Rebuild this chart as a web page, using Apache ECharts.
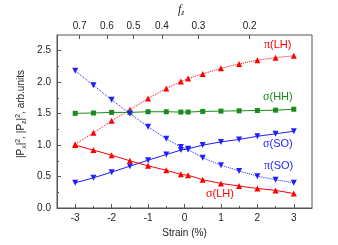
<!DOCTYPE html>
<html><head><meta charset="utf-8">
<script src="https://cdn.jsdelivr.net/npm/echarts@6/dist/echarts.min.js"></script>
<style>html,body{margin:0;padding:0;background:#fff}#c{width:338px;height:245px}</style>
</head><body><div id="c"></div>
<script>
const strain = [-3,-2.5,-2,-1.5,-1,-0.5,-0.1,0.1,0.5,1,1.5,2,2.5,3];
const piLH  = [1.01,1.195,1.385,1.56,1.74,1.90,2.01,2.06,2.13,2.22,2.29,2.35,2.39,2.42];
const sigHH = [1.505,1.51,1.52,1.52,1.53,1.53,1.525,1.525,1.535,1.54,1.545,1.55,1.555,1.57];
const sigSO = [0.40,0.48,0.57,0.665,0.76,0.85,0.92,0.94,1.00,1.05,1.09,1.14,1.18,1.22];
const piSO  = [2.18,1.95,1.72,1.50,1.29,1.10,0.97,0.93,0.80,0.68,0.59,0.505,0.45,0.40];
const sigLH = [1.00,0.92,0.84,0.75,0.67,0.60,0.535,0.52,0.45,0.39,0.35,0.31,0.28,0.23];
const xTicks = [-3,-2,-1,0,1,2,3];
const xMinor = [-2.5,-1.5,-0.5,0.5,1.5,2.5];
const yTicks = [0,0.5,1,1.5,2,2.5];
const yMinor = [0.25,0.75,1.25,1.75,2.25];
const fzLabels = ['0.7','0.6','0.5','0.4','0.3','0.2'];
const fzStrain = [-2.88,-2.13,-1.40,-0.62,0.38,1.79];

const RED='#ff0000', GREEN='#1a8a1a', BLUE='#1f1fff';
const pair = a => strain.map((s,i)=>[s,a[i]]);
const axCol = '#555';
const lbl = {color:'#222', fontSize:10, fontFamily:'Liberation Sans'};

function ser(name,data,color,dotted,symbol,rot,size){
  return {name,type:'line',xAxisIndex:0,yAxisIndex:0,data:pair(data),
    lineStyle:{color,width:1,type:dotted?'dotted':'solid'},
    itemStyle:{color},symbol,symbolRotate:rot,symbolSize:size,animation:false};
}
const chart = echarts.init(document.getElementById('c'),null,{renderer:'canvas'});
chart.setOption({
  animation:false,
  grid:{left:57,right:26,top:35,bottom:37,show:true,borderColor:axCol,borderWidth:1},
  xAxis:[
    {type:'value',position:'bottom',min:-3.5,max:3.5,
     axisLine:{onZero:false,lineStyle:{color:axCol}},splitLine:{show:false},
     axisTick:{inside:true,length:4,customValues:xTicks,lineStyle:{color:axCol}},
     axisLabel:{...lbl,margin:5,customValues:xTicks},
     name:'Strain (%)',nameLocation:'middle',nameGap:20,nameTextStyle:{...lbl,fontSize:10}},
    {type:'value',position:'bottom',min:-3.5,max:3.5,
     axisLine:{show:false,onZero:false},splitLine:{show:false},
     axisTick:{inside:true,length:2,customValues:xMinor,lineStyle:{color:axCol}},
     axisLabel:{show:false}},
    {type:'value',position:'top',min:-3.5,max:3.5,
     axisLine:{show:false,onZero:false},splitLine:{show:false},
     axisTick:{inside:true,length:4,customValues:fzStrain,lineStyle:{color:axCol}},
     axisLabel:{...lbl,margin:4,customValues:fzStrain,
       formatter:v=>{let best=0;fzStrain.forEach((s,i)=>{if(Math.abs(s-v)<Math.abs(fzStrain[best]-v))best=i;});return fzLabels[best];}}}
  ],
  yAxis:[
    {type:'value',min:0,max:2.75,
     axisLine:{show:true,onZero:false,lineStyle:{color:axCol}},splitLine:{show:false},
     axisTick:{inside:true,length:4,customValues:yTicks,lineStyle:{color:axCol}},
     axisLabel:{...lbl,margin:6,customValues:yTicks,formatter:v=>v.toFixed(1)}},
    {type:'value',min:0,max:2.75,position:'left',
     axisLine:{show:false,onZero:false},splitLine:{show:false},
     axisTick:{inside:true,length:2,customValues:yMinor,lineStyle:{color:axCol}},
     axisLabel:{show:false}}
  ],
  series:[
    ser('piLH',piLH,RED,true,'triangle',0,6),
    ser('sigHH',sigHH,GREEN,false,'rect',0,5),
    ser('sigSO',sigSO,BLUE,false,'triangle',180,6),
    ser('piSO',piSO,BLUE,true,'triangle',180,6),
    ser('sigLH',sigLH,RED,false,'triangle',0,6)
  ],
  graphic:[
    {type:'text',left:178,top:4,style:{text:'{f|f}{z|z}',rich:{f:{fontFamily:'Liberation Serif',fontStyle:'italic',fontSize:12,fill:'#222'},z:{fontFamily:'Liberation Serif',fontStyle:'italic',fontSize:8,fill:'#222',padding:[6,0,0,0]}}}},
    {type:'text',x:21,y:114,rotation:Math.PI/2,style:{text:'|P{s|x}|{p|2}, |P{s|z}|{p|2}, arb.units',align:'center',verticalAlign:'middle',
      font:'10px Liberation Sans',fill:'#222',
      rich:{s:{fontSize:7,fontFamily:'Liberation Sans',fill:'#222',padding:[6,0,0,0]},p:{fontSize:7,fontFamily:'Liberation Sans',fill:'#222',padding:[0,0,6,0]}}}},
    {type:'text',left:264,top:39,style:{text:'{g|π}(LH)',fill:RED,font:'11px Liberation Sans',rich:{g:{fontFamily:'Liberation Serif',fontSize:12,fill:RED}}}},
    {type:'text',left:263,top:91,style:{text:'{g|σ}(HH)',fill:GREEN,font:'11px Liberation Sans',rich:{g:{fontFamily:'Liberation Serif',fontSize:12,fill:GREEN}}}},
    {type:'text',left:263,top:138,style:{text:'{g|σ}(SO)',fill:BLUE,font:'11px Liberation Sans',rich:{g:{fontFamily:'Liberation Serif',fontSize:12,fill:BLUE}}}},
    {type:'text',left:264,top:160,style:{text:'{g|π}(SO)',fill:BLUE,font:'11px Liberation Sans',rich:{g:{fontFamily:'Liberation Serif',fontSize:12,fill:BLUE}}}},
    {type:'text',left:206,top:188,style:{text:'{g|σ}(LH)',fill:RED,font:'11px Liberation Sans',rich:{g:{fontFamily:'Liberation Serif',fontSize:12,fill:RED}}}}
  ]
});
</script></body></html>
